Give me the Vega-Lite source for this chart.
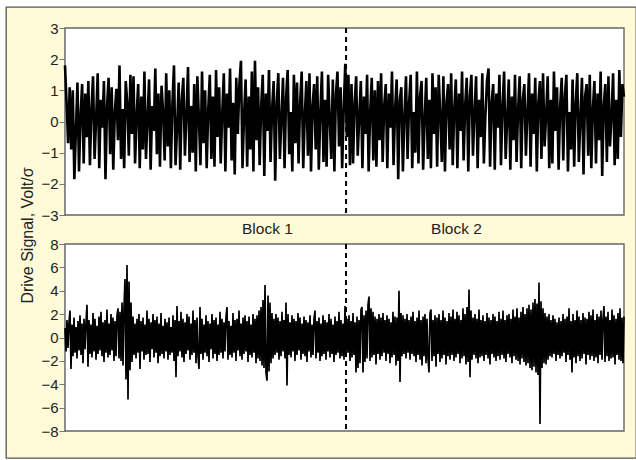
{
"$schema": "https://vega.github.io/schema/vega-lite/v6.json",
"width": 630, "height": 451,
"autosize": "none",
"padding": {"left": 6, "top": 7, "right": 0, "bottom": 2},
"background": "white",
"config": {"view": {"fill": "#fffbd8", "stroke": "#555555", "strokeWidth": 1.3}, "font": "Liberation Sans"},
"datasets": {
"top": [
{"t":0,"v":1.8},{"t":1,"v":0.6},{"t":2,"v":-0.7},{"t":3,"v":1.1},{"t":4,"v":-0.9},{"t":5,"v":1.0},{"t":6,"v":-1.85},{"t":7,"v":-0.3},{"t":8,"v":1.25},{"t":9,"v":-1.6},{"t":10,"v":0.2},{"t":11,"v":1.2},{"t":12,"v":-1.35},{"t":13,"v":0.9},{"t":14,"v":-0.5},{"t":15,"v":1.3},{"t":16,"v":-1.4},{"t":17,"v":0.4},{"t":18,"v":1.45},{"t":19,"v":-1.2},
{"t":20,"v":0.1},{"t":21,"v":1.55},{"t":22,"v":-1.5},{"t":23,"v":0.7},{"t":24,"v":-0.2},{"t":25,"v":1.3},{"t":26,"v":-1.85},{"t":27,"v":0.5},{"t":28,"v":1.4},{"t":29,"v":-1.05},{"t":30,"v":1.1},{"t":31,"v":-1.55},{"t":32,"v":0.3},{"t":33,"v":1.05},{"t":34,"v":-0.6},{"t":35,"v":1.8},{"t":36,"v":-1.2},{"t":37,"v":0.4},{"t":38,"v":-1.5},{"t":39,"v":1.3},
{"t":40,"v":0.6},{"t":41,"v":-1.1},{"t":42,"v":1.5},{"t":43,"v":-0.4},{"t":44,"v":1.45},{"t":45,"v":-1.35},{"t":46,"v":0.2},{"t":47,"v":1.2},{"t":48,"v":-1.5},{"t":49,"v":0.8},{"t":50,"v":-0.9},{"t":51,"v":1.6},{"t":52,"v":-1.2},{"t":53,"v":0.1},{"t":54,"v":1.35},{"t":55,"v":-1.55},{"t":56,"v":0.5},{"t":57,"v":-0.3},{"t":58,"v":1.7},{"t":59,"v":-1.05},
{"t":60,"v":0.9},{"t":61,"v":-1.45},{"t":62,"v":1.15},{"t":63,"v":0.3},{"t":64,"v":-1.25},{"t":65,"v":1.55},{"t":66,"v":-0.8},{"t":67,"v":1.0},{"t":68,"v":-1.5},{"t":69,"v":0.6},{"t":70,"v":1.8},{"t":71,"v":-1.4},{"t":72,"v":-0.2},{"t":73,"v":1.25},{"t":74,"v":-1.55},{"t":75,"v":0.7},{"t":76,"v":1.4},{"t":77,"v":-1.1},{"t":78,"v":0.2},{"t":79,"v":1.75},
{"t":80,"v":-1.3},{"t":81,"v":0.5},{"t":82,"v":-1.0},{"t":83,"v":1.2},{"t":84,"v":-1.6},{"t":85,"v":1.45},{"t":86,"v":0.1},{"t":87,"v":-1.4},{"t":88,"v":1.6},{"t":89,"v":-0.7},{"t":90,"v":1.0},{"t":91,"v":-1.5},{"t":92,"v":0.4},{"t":93,"v":1.5},{"t":94,"v":-1.2},{"t":95,"v":0.8},{"t":96,"v":-1.45},{"t":97,"v":1.65},{"t":98,"v":-0.5},{"t":99,"v":1.1},
{"t":100,"v":-1.35},{"t":101,"v":0.3},{"t":102,"v":1.55},{"t":103,"v":-1.6},{"t":104,"v":0.9},{"t":105,"v":-0.2},{"t":106,"v":1.7},{"t":107,"v":-1.25},{"t":108,"v":0.6},{"t":109,"v":-1.7},{"t":110,"v":1.4},{"t":111,"v":-0.4},{"t":112,"v":1.2},{"t":113,"v":1.95},{"t":114,"v":-1.5},{"t":115,"v":0.2},{"t":116,"v":1.35},{"t":117,"v":-1.45},{"t":118,"v":0.8},{"t":119,"v":-0.9},
{"t":120,"v":1.6},{"t":121,"v":-1.6},{"t":122,"v":1.95},{"t":123,"v":-0.6},{"t":124,"v":1.1},{"t":125,"v":-1.4},{"t":126,"v":0.5},{"t":127,"v":1.5},{"t":128,"v":-1.75},{"t":129,"v":0.9},{"t":130,"v":-0.3},{"t":131,"v":1.65},{"t":132,"v":-1.3},{"t":133,"v":0.4},{"t":134,"v":1.3},{"t":135,"v":-1.9},{"t":136,"v":0.6},{"t":137,"v":1.55},{"t":138,"v":-1.2},{"t":139,"v":0.1},
{"t":140,"v":1.4},{"t":141,"v":-1.5},{"t":142,"v":0.8},{"t":143,"v":1.65},{"t":144,"v":-1.05},{"t":145,"v":0.3},{"t":146,"v":-1.6},{"t":147,"v":1.5},{"t":148,"v":-0.7},{"t":149,"v":1.25},{"t":150,"v":-1.35},{"t":151,"v":0.6},{"t":152,"v":1.6},{"t":153,"v":-1.5},{"t":154,"v":0.2},{"t":155,"v":1.3},{"t":156,"v":-1.1},{"t":157,"v":1.55},{"t":158,"v":-1.6},{"t":159,"v":0.5},
{"t":160,"v":1.2},{"t":161,"v":-0.9},{"t":162,"v":1.45},{"t":163,"v":-1.55},{"t":164,"v":0.3},{"t":165,"v":1.6},{"t":166,"v":-1.3},{"t":167,"v":0.7},{"t":168,"v":-1.45},{"t":169,"v":1.5},{"t":170,"v":0.1},{"t":171,"v":-1.2},{"t":172,"v":1.35},{"t":173,"v":-1.6},{"t":174,"v":0.9},{"t":175,"v":1.6},{"t":176,"v":-0.8},{"t":177,"v":1.1},{"t":178,"v":-1.5},{"t":179,"v":0.4},
{"t":180,"v":1.85},{"t":181,"v":-0.5},{"t":182,"v":1.5},{"t":183,"v":-1.4},{"t":184,"v":1.2},{"t":185,"v":-1.35},{"t":186,"v":0.6},{"t":187,"v":1.45},{"t":188,"v":-1.1},{"t":189,"v":0.2},{"t":190,"v":1.3},{"t":191,"v":-1.5},{"t":192,"v":0.8},{"t":193,"v":-0.4},{"t":194,"v":1.5},{"t":195,"v":-1.6},{"t":196,"v":0.3},{"t":197,"v":1.4},{"t":198,"v":-1.25},{"t":199,"v":1.0},
{"t":200,"v":-1.45},{"t":201,"v":1.3},{"t":202,"v":-0.6},{"t":203,"v":1.55},{"t":204,"v":-1.3},{"t":205,"v":0.5},{"t":206,"v":1.2},{"t":207,"v":-1.5},{"t":208,"v":0.9},{"t":209,"v":-0.2},{"t":210,"v":1.6},{"t":211,"v":-1.4},{"t":212,"v":0.4},{"t":213,"v":1.35},{"t":214,"v":-1.85},{"t":215,"v":0.7},{"t":216,"v":1.1},{"t":217,"v":-1.6},{"t":218,"v":0.2},{"t":219,"v":1.45},
{"t":220,"v":-1.2},{"t":221,"v":0.6},{"t":222,"v":1.5},{"t":223,"v":-1.5},{"t":224,"v":0.3},{"t":225,"v":-1.0},{"t":226,"v":1.6},{"t":227,"v":-1.35},{"t":228,"v":0.8},{"t":229,"v":1.3},{"t":230,"v":-1.55},{"t":231,"v":0.1},{"t":232,"v":1.4},{"t":233,"v":-1.2},{"t":234,"v":0.7},{"t":235,"v":-1.5},{"t":236,"v":1.55},{"t":237,"v":-0.4},{"t":238,"v":1.1},{"t":239,"v":-1.45},
{"t":240,"v":1.5},{"t":241,"v":0.2},{"t":242,"v":-1.3},{"t":243,"v":1.45},{"t":244,"v":-1.6},{"t":245,"v":0.6},{"t":246,"v":1.2},{"t":247,"v":-0.9},{"t":248,"v":1.55},{"t":249,"v":-1.4},{"t":250,"v":0.4},{"t":251,"v":1.35},{"t":252,"v":-1.5},{"t":253,"v":0.9},{"t":254,"v":-0.3},{"t":255,"v":1.6},{"t":256,"v":-1.25},{"t":257,"v":0.5},{"t":258,"v":1.4},{"t":259,"v":-1.6},
{"t":260,"v":0.8},{"t":261,"v":1.5},{"t":262,"v":-1.1},{"t":263,"v":0.3},{"t":264,"v":1.45},{"t":265,"v":-1.5},{"t":266,"v":0.7},{"t":267,"v":-0.5},{"t":268,"v":1.55},{"t":269,"v":-1.35},{"t":270,"v":0.2},{"t":271,"v":1.3},{"t":272,"v":1.7},{"t":273,"v":-1.45},{"t":274,"v":0.6},{"t":275,"v":1.2},{"t":276,"v":-1.55},{"t":277,"v":0.9},{"t":278,"v":-0.2},{"t":279,"v":1.5},
{"t":280,"v":-1.4},{"t":281,"v":0.5},{"t":282,"v":1.6},{"t":283,"v":-1.2},{"t":284,"v":0.1},{"t":285,"v":1.35},{"t":286,"v":-1.55},{"t":287,"v":0.8},{"t":288,"v":-0.6},{"t":289,"v":1.5},{"t":290,"v":-1.3},{"t":291,"v":0.4},{"t":292,"v":1.45},{"t":293,"v":-1.5},{"t":294,"v":0.7},{"t":295,"v":1.2},{"t":296,"v":-1.1},{"t":297,"v":0.3},{"t":298,"v":1.55},{"t":299,"v":-1.45},
{"t":300,"v":0.9},{"t":301,"v":-0.4},{"t":302,"v":1.4},{"t":303,"v":-1.6},{"t":304,"v":0.6},{"t":305,"v":1.3},{"t":306,"v":-1.2},{"t":307,"v":1.55},{"t":308,"v":-0.8},{"t":309,"v":0.2},{"t":310,"v":1.45},{"t":311,"v":-1.5},{"t":312,"v":0.7},{"t":313,"v":-1.35},{"t":314,"v":1.6},{"t":315,"v":-0.3},{"t":316,"v":1.1},{"t":317,"v":-1.55},{"t":318,"v":0.5},{"t":319,"v":1.4},
{"t":320,"v":-1.25},{"t":321,"v":0.8},{"t":322,"v":1.5},{"t":323,"v":-1.6},{"t":324,"v":0.3},{"t":325,"v":-0.9},{"t":326,"v":1.35},{"t":327,"v":-1.45},{"t":328,"v":0.6},{"t":329,"v":1.55},{"t":330,"v":-1.3},{"t":331,"v":0.1},{"t":332,"v":1.4},{"t":333,"v":-1.7},{"t":334,"v":0.8},{"t":335,"v":1.2},{"t":336,"v":-1.1},{"t":337,"v":1.5},{"t":338,"v":-1.5},{"t":339,"v":0.4},
{"t":340,"v":1.3},{"t":341,"v":-1.35},{"t":342,"v":0.9},{"t":343,"v":-0.6},{"t":344,"v":1.6},{"t":345,"v":-1.75},{"t":346,"v":0.5},{"t":347,"v":1.2},{"t":348,"v":-1.3},{"t":349,"v":1.45},{"t":350,"v":-0.8},{"t":351,"v":0.2},{"t":352,"v":1.55},{"t":353,"v":-1.4},{"t":354,"v":0.7},{"t":355,"v":-1.2},{"t":356,"v":1.65},{"t":357,"v":-0.5},{"t":358,"v":1.2},{"t":359,"v":0.8}
],
"bottom": [
{"t":0,"v":0.8},{"t":1,"v":-1.2},{"t":2,"v":1.5},{"t":3,"v":-0.9},{"t":4,"v":1.3},{"t":5,"v":2.3},{"t":6,"v":-2.7},{"t":7,"v":1.1},{"t":8,"v":-1.6},{"t":9,"v":1.7},{"t":10,"v":-1.3},{"t":11,"v":0.9},{"t":12,"v":-1.8},{"t":13,"v":1.4},{"t":14,"v":-1.1},{"t":15,"v":1.9},{"t":16,"v":-1.5},{"t":17,"v":1.2},{"t":18,"v":-2.2},{"t":19,"v":1.6},
{"t":20,"v":-1.0},{"t":21,"v":1.3},{"t":22,"v":2.8},{"t":23,"v":-2.5},{"t":24,"v":1.5},{"t":25,"v":-1.4},{"t":26,"v":1.1},{"t":27,"v":-1.7},{"t":28,"v":2.1},{"t":29,"v":-1.2},{"t":30,"v":1.6},{"t":31,"v":-1.9},{"t":32,"v":1.0},{"t":33,"v":-1.4},{"t":34,"v":1.8},{"t":35,"v":-1.1},{"t":36,"v":2.2},{"t":37,"v":-1.6},{"t":38,"v":1.3},{"t":39,"v":-2.1},
{"t":40,"v":1.5},{"t":41,"v":-1.3},{"t":42,"v":2.4},{"t":43,"v":-1.7},{"t":44,"v":1.2},{"t":45,"v":-1.5},{"t":46,"v":2.0},{"t":47,"v":-1.1},{"t":48,"v":1.7},{"t":49,"v":-2.0},{"t":50,"v":1.4},{"t":51,"v":-1.6},{"t":52,"v":1.9},{"t":53,"v":2.5},{"t":54,"v":-1.8},{"t":55,"v":2.2},{"t":56,"v":-2.0},{"t":57,"v":3.0},{"t":58,"v":-2.4},{"t":59,"v":2.6},
{"t":60,"v":5.0},{"t":61,"v":-3.6},{"t":62,"v":6.2},{"t":63,"v":-5.3},{"t":64,"v":4.8},{"t":65,"v":-2.8},{"t":66,"v":3.0},{"t":67,"v":-2.1},{"t":68,"v":1.8},{"t":69,"v":-1.5},{"t":70,"v":1.2},{"t":71,"v":-1.8},{"t":72,"v":1.6},{"t":73,"v":-1.3},{"t":74,"v":2.0},{"t":75,"v":-2.7},{"t":76,"v":1.4},{"t":77,"v":-1.2},{"t":78,"v":1.7},{"t":79,"v":-1.9},
{"t":80,"v":1.1},{"t":81,"v":-1.5},{"t":82,"v":2.3},{"t":83,"v":-1.4},{"t":84,"v":1.6},{"t":85,"v":-2.1},{"t":86,"v":1.3},{"t":87,"v":-1.0},{"t":88,"v":2.0},{"t":89,"v":-1.7},{"t":90,"v":1.5},{"t":91,"v":-1.3},{"t":92,"v":1.8},{"t":93,"v":-2.2},{"t":94,"v":1.2},{"t":95,"v":-1.6},{"t":96,"v":2.1},{"t":97,"v":-1.4},{"t":98,"v":1.0},{"t":99,"v":-1.8},
{"t":100,"v":1.6},{"t":101,"v":-1.2},{"t":102,"v":1.3},{"t":103,"v":-1.9},{"t":104,"v":1.7},{"t":105,"v":-1.5},{"t":106,"v":0.9},{"t":107,"v":-1.3},{"t":108,"v":1.9},{"t":109,"v":-2.0},{"t":110,"v":1.5},{"t":111,"v":-3.4},{"t":112,"v":2.7},{"t":113,"v":-1.6},{"t":114,"v":1.4},{"t":115,"v":-1.2},{"t":116,"v":2.2},{"t":117,"v":-1.7},{"t":118,"v":1.6},{"t":119,"v":-2.1},
{"t":120,"v":1.3},{"t":121,"v":-1.4},{"t":122,"v":2.0},{"t":123,"v":-1.1},{"t":124,"v":1.8},{"t":125,"v":-1.9},{"t":126,"v":1.2},{"t":127,"v":-1.5},{"t":128,"v":2.3},{"t":129,"v":-1.3},{"t":130,"v":1.5},{"t":131,"v":-2.2},{"t":132,"v":1.7},{"t":133,"v":-1.6},{"t":134,"v":-2.7},{"t":135,"v":2.6},{"t":136,"v":-1.4},{"t":137,"v":1.6},{"t":138,"v":-1.9},{"t":139,"v":1.1},
{"t":140,"v":-1.3},{"t":141,"v":1.9},{"t":142,"v":-1.6},{"t":143,"v":1.4},{"t":144,"v":-2.1},{"t":145,"v":1.2},{"t":146,"v":-1.0},{"t":147,"v":2.0},{"t":148,"v":-1.8},{"t":149,"v":1.5},{"t":150,"v":-1.4},{"t":151,"v":1.7},{"t":152,"v":-2.0},{"t":153,"v":1.1},{"t":154,"v":-1.5},{"t":155,"v":2.2},{"t":156,"v":-1.3},{"t":157,"v":1.6},{"t":158,"v":-1.8},{"t":159,"v":1.3},
{"t":160,"v":-1.2},{"t":161,"v":1.8},{"t":162,"v":2.6},{"t":163,"v":-1.9},{"t":164,"v":1.4},{"t":165,"v":-1.5},{"t":166,"v":1.0},{"t":167,"v":-1.7},{"t":168,"v":2.1},{"t":169,"v":-1.3},{"t":170,"v":1.5},{"t":171,"v":-2.0},{"t":172,"v":1.6},{"t":173,"v":-1.1},{"t":174,"v":2.3},{"t":175,"v":-1.6},{"t":176,"v":1.2},{"t":177,"v":-1.9},{"t":178,"v":1.7},{"t":179,"v":-1.4},
{"t":180,"v":1.9},{"t":181,"v":-1.2},{"t":182,"v":1.4},{"t":183,"v":-2.1},{"t":184,"v":1.8},{"t":185,"v":-1.5},{"t":186,"v":1.1},{"t":187,"v":-1.7},{"t":188,"v":2.0},{"t":189,"v":-1.3},{"t":190,"v":1.6},{"t":191,"v":-2.2},{"t":192,"v":1.9},{"t":193,"v":-1.8},{"t":194,"v":2.3},{"t":195,"v":-2.0},{"t":196,"v":2.6},{"t":197,"v":-2.4},{"t":198,"v":3.2},{"t":199,"v":-2.6},
{"t":200,"v":4.5},{"t":201,"v":-3.0},{"t":202,"v":-3.7},{"t":203,"v":3.6},{"t":204,"v":-2.9},{"t":205,"v":3.0},{"t":206,"v":-2.2},{"t":207,"v":2.1},{"t":208,"v":-1.8},{"t":209,"v":1.6},{"t":210,"v":-1.5},{"t":211,"v":2.0},{"t":212,"v":-1.3},{"t":213,"v":1.7},{"t":214,"v":-1.9},{"t":215,"v":1.4},{"t":216,"v":-1.6},{"t":217,"v":2.2},{"t":218,"v":-1.2},{"t":219,"v":1.5},
{"t":220,"v":-1.8},{"t":221,"v":3.0},{"t":222,"v":-4.1},{"t":223,"v":2.0},{"t":224,"v":-1.5},{"t":225,"v":1.3},{"t":226,"v":-1.7},{"t":227,"v":1.9},{"t":228,"v":-1.2},{"t":229,"v":1.6},{"t":230,"v":-2.0},{"t":231,"v":1.4},{"t":232,"v":-1.5},{"t":233,"v":2.1},{"t":234,"v":-1.1},{"t":235,"v":1.7},{"t":236,"v":-1.9},{"t":237,"v":1.2},{"t":238,"v":-1.4},{"t":239,"v":1.8},
{"t":240,"v":-1.6},{"t":241,"v":1.5},{"t":242,"v":-2.1},{"t":243,"v":1.3},{"t":244,"v":-1.2},{"t":245,"v":1.9},{"t":246,"v":-1.7},{"t":247,"v":1.1},{"t":248,"v":-1.5},{"t":249,"v":1.6},{"t":250,"v":2.3},{"t":251,"v":-1.8},{"t":252,"v":1.4},{"t":253,"v":-1.3},{"t":254,"v":1.7},{"t":255,"v":-2.0},{"t":256,"v":1.2},{"t":257,"v":-1.6},{"t":258,"v":1.9},{"t":259,"v":-1.4},
{"t":260,"v":1.5},{"t":261,"v":-1.9},{"t":262,"v":1.3},{"t":263,"v":-1.2},{"t":264,"v":2.0},{"t":265,"v":-1.7},{"t":266,"v":1.6},{"t":267,"v":-1.4},{"t":268,"v":1.1},{"t":269,"v":-2.1},{"t":270,"v":1.8},{"t":271,"v":-1.5},{"t":272,"v":1.4},{"t":273,"v":-1.3},{"t":274,"v":2.2},{"t":275,"v":-1.8},{"t":276,"v":1.5},{"t":277,"v":-1.6},{"t":278,"v":1.2},{"t":279,"v":-1.9},
{"t":280,"v":2.7},{"t":281,"v":-1.5},{"t":282,"v":1.6},{"t":283,"v":-1.3},{"t":284,"v":1.9},{"t":285,"v":-2.0},{"t":286,"v":1.4},{"t":287,"v":-1.7},{"t":288,"v":2.1},{"t":289,"v":-1.5},{"t":290,"v":1.3},{"t":291,"v":-3.0},{"t":292,"v":1.8},{"t":293,"v":-2.6},{"t":294,"v":1.5},{"t":295,"v":-2.2},{"t":296,"v":2.4},{"t":297,"v":2.6},{"t":298,"v":-3.0},{"t":299,"v":1.9},
{"t":300,"v":-2.1},{"t":301,"v":2.3},{"t":302,"v":-1.8},{"t":303,"v":2.8},{"t":304,"v":3.5},{"t":305,"v":-2.0},{"t":306,"v":2.5},{"t":307,"v":-1.7},{"t":308,"v":2.2},{"t":309,"v":-1.5},{"t":310,"v":1.8},{"t":311,"v":-2.3},{"t":312,"v":1.6},{"t":313,"v":-1.4},{"t":314,"v":2.0},{"t":315,"v":-1.9},{"t":316,"v":1.7},{"t":317,"v":-1.6},{"t":318,"v":2.1},{"t":319,"v":-1.3},
{"t":320,"v":1.5},{"t":321,"v":-2.0},{"t":322,"v":1.9},{"t":323,"v":-1.4},{"t":324,"v":1.6},{"t":325,"v":-2.2},{"t":326,"v":1.3},{"t":327,"v":-1.7},{"t":328,"v":2.2},{"t":329,"v":-1.5},{"t":330,"v":1.8},{"t":331,"v":-2.4},{"t":332,"v":1.7},{"t":333,"v":-2.0},{"t":334,"v":4.0},{"t":335,"v":-3.8},{"t":336,"v":2.1},{"t":337,"v":-1.6},{"t":338,"v":1.9},{"t":339,"v":-1.4},
{"t":340,"v":1.6},{"t":341,"v":-1.8},{"t":342,"v":2.0},{"t":343,"v":-1.3},{"t":344,"v":1.5},{"t":345,"v":-1.9},{"t":346,"v":1.8},{"t":347,"v":-1.4},{"t":348,"v":2.2},{"t":349,"v":-1.6},{"t":350,"v":1.4},{"t":351,"v":-2.1},{"t":352,"v":1.7},{"t":353,"v":-1.5},{"t":354,"v":2.3},{"t":355,"v":-1.9},{"t":356,"v":1.5},{"t":357,"v":-2.4},{"t":358,"v":1.8},{"t":359,"v":-1.6},
{"t":360,"v":2.0},{"t":361,"v":-2.2},{"t":362,"v":1.6},{"t":363,"v":-1.8},{"t":364,"v":-3.0},{"t":365,"v":2.1},{"t":366,"v":2.4},{"t":367,"v":-2.0},{"t":368,"v":1.5},{"t":369,"v":-1.6},{"t":370,"v":1.9},{"t":371,"v":-2.5},{"t":372,"v":1.7},{"t":373,"v":-1.4},{"t":374,"v":2.0},{"t":375,"v":-2.1},{"t":376,"v":1.5},{"t":377,"v":-1.8},{"t":378,"v":2.3},{"t":379,"v":-1.5},
{"t":380,"v":1.7},{"t":381,"v":-2.3},{"t":382,"v":1.4},{"t":383,"v":-1.6},{"t":384,"v":2.1},{"t":385,"v":-1.9},{"t":386,"v":1.8},{"t":387,"v":-1.5},{"t":388,"v":2.4},{"t":389,"v":-2.0},{"t":390,"v":1.6},{"t":391,"v":-1.7},{"t":392,"v":2.2},{"t":393,"v":-1.4},{"t":394,"v":1.9},{"t":395,"v":-2.2},{"t":396,"v":1.5},{"t":397,"v":-1.8},{"t":398,"v":2.5},{"t":399,"v":-1.6},
{"t":400,"v":2.0},{"t":401,"v":-2.3},{"t":402,"v":2.6},{"t":403,"v":-2.1},{"t":404,"v":4.1},{"t":405,"v":-3.4},{"t":406,"v":2.3},{"t":407,"v":-1.9},{"t":408,"v":1.7},{"t":409,"v":-1.5},{"t":410,"v":2.0},{"t":411,"v":-1.8},{"t":412,"v":1.6},{"t":413,"v":-2.2},{"t":414,"v":2.4},{"t":415,"v":-1.7},{"t":416,"v":1.5},{"t":417,"v":-1.6},{"t":418,"v":1.9},{"t":419,"v":-2.0},
{"t":420,"v":1.4},{"t":421,"v":-1.5},{"t":422,"v":2.1},{"t":423,"v":-1.8},{"t":424,"v":1.7},{"t":425,"v":-2.3},{"t":426,"v":1.5},{"t":427,"v":-1.4},{"t":428,"v":2.0},{"t":429,"v":-1.7},{"t":430,"v":1.8},{"t":431,"v":-2.0},{"t":432,"v":1.4},{"t":433,"v":-1.6},{"t":434,"v":2.2},{"t":435,"v":-1.9},{"t":436,"v":1.6},{"t":437,"v":-1.5},{"t":438,"v":2.3},{"t":439,"v":-1.8},
{"t":440,"v":1.5},{"t":441,"v":-2.1},{"t":442,"v":1.9},{"t":443,"v":-1.4},{"t":444,"v":2.0},{"t":445,"v":-1.7},{"t":446,"v":1.6},{"t":447,"v":-2.2},{"t":448,"v":2.4},{"t":449,"v":-1.6},{"t":450,"v":1.8},{"t":451,"v":-1.9},{"t":452,"v":2.5},{"t":453,"v":-2.0},{"t":454,"v":1.7},{"t":455,"v":-2.3},{"t":456,"v":2.2},{"t":457,"v":-1.8},{"t":458,"v":2.6},{"t":459,"v":-2.1},
{"t":460,"v":2.0},{"t":461,"v":-2.4},{"t":462,"v":2.5},{"t":463,"v":-2.2},{"t":464,"v":2.8},{"t":465,"v":-2.6},{"t":466,"v":2.4},{"t":467,"v":-2.8},{"t":468,"v":3.0},{"t":469,"v":-2.5},{"t":470,"v":3.3},{"t":471,"v":-3.0},{"t":472,"v":2.9},{"t":473,"v":-3.2},{"t":474,"v":4.7},{"t":475,"v":-7.4},{"t":476,"v":3.1},{"t":477,"v":-2.6},{"t":478,"v":2.5},{"t":479,"v":-2.2},
{"t":480,"v":2.1},{"t":481,"v":-2.3},{"t":482,"v":1.8},{"t":483,"v":-1.9},{"t":484,"v":2.0},{"t":485,"v":-1.6},{"t":486,"v":1.5},{"t":487,"v":-1.7},{"t":488,"v":1.9},{"t":489,"v":-1.4},{"t":490,"v":1.6},{"t":491,"v":-2.0},{"t":492,"v":1.3},{"t":493,"v":-1.5},{"t":494,"v":1.7},{"t":495,"v":-1.8},{"t":496,"v":1.4},{"t":497,"v":-1.6},{"t":498,"v":2.0},{"t":499,"v":-1.3},
{"t":500,"v":1.6},{"t":501,"v":-2.1},{"t":502,"v":1.8},{"t":503,"v":-1.5},{"t":504,"v":2.5},{"t":505,"v":-1.9},{"t":506,"v":1.4},{"t":507,"v":-3.0},{"t":508,"v":2.0},{"t":509,"v":-1.7},{"t":510,"v":1.5},{"t":511,"v":-2.2},{"t":512,"v":2.3},{"t":513,"v":-1.6},{"t":514,"v":1.8},{"t":515,"v":-2.0},{"t":516,"v":1.5},{"t":517,"v":-1.8},{"t":518,"v":2.1},{"t":519,"v":-1.4},
{"t":520,"v":1.7},{"t":521,"v":-2.3},{"t":522,"v":1.6},{"t":523,"v":-1.5},{"t":524,"v":2.2},{"t":525,"v":-1.9},{"t":526,"v":1.9},{"t":527,"v":-1.6},{"t":528,"v":2.4},{"t":529,"v":-2.0},{"t":530,"v":1.5},{"t":531,"v":-1.7},{"t":532,"v":2.0},{"t":533,"v":-2.2},{"t":534,"v":1.8},{"t":535,"v":-1.5},{"t":536,"v":2.3},{"t":537,"v":-1.9},{"t":538,"v":1.6},{"t":539,"v":2.7},
{"t":540,"v":-2.1},{"t":541,"v":1.8},{"t":542,"v":-1.6},{"t":543,"v":2.2},{"t":544,"v":-2.0},{"t":545,"v":1.5},{"t":546,"v":-1.8},{"t":547,"v":2.4},{"t":548,"v":-1.7},{"t":549,"v":1.9},{"t":550,"v":-2.3},{"t":551,"v":1.6},{"t":552,"v":-1.5},{"t":553,"v":2.1},{"t":554,"v":-1.9},{"t":555,"v":2.5},{"t":556,"v":-2.0},{"t":557,"v":1.7},{"t":558,"v":-2.2},{"t":559,"v":1.8}
]
},
"resolve": {"scale": {"x": "independent", "y": "independent"}, "axis": {"x": "independent", "y": "independent"}},
"layer": [
{"data": {"values": [{"lo": -3, "hi": 3, "x0": 0, "x1": 359}]}, "mark": {"type": "rect", "fill": "white", "stroke": "#666666", "strokeWidth": 1.4},
 "encoding": {
  "x": {"field": "x0", "type": "quantitative", "scale": {"domain": [0, 359], "range": [59, 618], "nice": false, "zero": false}, "axis": null},
  "x2": {"field": "x1"},
  "y": {"field": "lo", "type": "quantitative", "scale": {"domain": [-3, 3], "range": [208, 21], "nice": false, "zero": false}, "axis": null},
  "y2": {"field": "hi"}}},
{"data": {"values": [{"lo": -8, "hi": 8, "x0": 0, "x1": 559}]}, "mark": {"type": "rect", "fill": "white", "stroke": "#666666", "strokeWidth": 1.4},
 "encoding": {
  "x": {"field": "x0", "type": "quantitative", "scale": {"domain": [0, 559], "range": [59, 618], "nice": false, "zero": false}, "axis": null},
  "x2": {"field": "x1"},
  "y": {"field": "lo", "type": "quantitative", "scale": {"domain": [-8, 8], "range": [424, 237], "nice": false, "zero": false}, "axis": null},
  "y2": {"field": "hi"}}},
{"data": {"name": "top"}, "mark": {"type": "line", "color": "black", "strokeWidth": 2.6, "clip": true},
 "encoding": {
  "x": {"field": "t", "type": "quantitative", "scale": {"domain": [0, 359], "range": [59, 618], "nice": false, "zero": false},
        "axis": {"orient": "bottom", "offset": -243, "values": [129.7, 251.1], "labelExpr": "datum.value < 190 ? 'Block 1' : 'Block 2'", "ticks": false, "domain": false, "grid": false, "labelFontSize": 15.5, "labelPadding": 6, "labelColor": "#222222", "labelOverlap": false, "labelFlush": false, "title": null}},
  "y": {"field": "v", "type": "quantitative", "scale": {"domain": [-3, 3], "range": [208, 21], "nice": false, "zero": false},
        "axis": {"orient": "left", "offset": -59, "values": [-3, -2, -1, 0, 1, 2, 3], "grid": false, "tickSize": 6, "tickColor": "#777777", "domainColor": "#777777", "domainWidth": 1.5, "labelFontSize": 15, "labelPadding": 1, "labelColor": "#222222", "labelOverlap": false, "labelFlush": false,
                 "title": "Drive Signal, Volt/σ", "titleFontSize": 16, "titleFontWeight": "normal", "titleColor": "#222222", "titleAngle": 270, "titleAlign": "center", "titleBaseline": "middle", "titleX": -37.5, "titleY": 228}}
 }},
{"data": {"name": "bottom"}, "mark": {"type": "line", "color": "black", "strokeWidth": 1.7},
 "encoding": {
  "x": {"field": "t", "type": "quantitative", "scale": {"domain": [0, 559], "range": [59, 618], "nice": false, "zero": false}, "axis": null},
  "y": {"field": "v", "type": "quantitative", "scale": {"domain": [-8, 8], "range": [424, 237], "nice": false, "zero": false},
        "axis": {"orient": "left", "offset": -59, "values": [-8, -6, -4, -2, 0, 2, 4, 6, 8], "grid": false, "tickSize": 6, "tickColor": "#777777", "domainColor": "#777777", "domainWidth": 1.5, "labelFontSize": 15, "labelPadding": 1, "labelColor": "#222222", "labelOverlap": false, "labelFlush": false, "title": null}}
 }},
{"data": {"values": [{"xd": 180.5, "lo": -3, "hi": 3}]}, "mark": {"type": "rule", "color": "black", "strokeWidth": 2, "strokeDash": [5, 4]},
 "encoding": {
  "x": {"field": "xd", "type": "quantitative", "scale": {"domain": [0, 359], "range": [59, 618], "nice": false, "zero": false}, "axis": null},
  "y": {"field": "hi", "type": "quantitative", "scale": {"domain": [-3, 3], "range": [208, 21], "nice": false, "zero": false}, "axis": null},
  "y2": {"field": "lo"}}},
{"data": {"values": [{"xd": 281, "lo": -8, "hi": 8}]}, "mark": {"type": "rule", "color": "black", "strokeWidth": 2, "strokeDash": [5, 4]},
 "encoding": {
  "x": {"field": "xd", "type": "quantitative", "scale": {"domain": [0, 559], "range": [59, 618], "nice": false, "zero": false}, "axis": null},
  "y": {"field": "hi", "type": "quantitative", "scale": {"domain": [-8, 8], "range": [424, 237], "nice": false, "zero": false}, "axis": null},
  "y2": {"field": "lo"}}}
]
}
